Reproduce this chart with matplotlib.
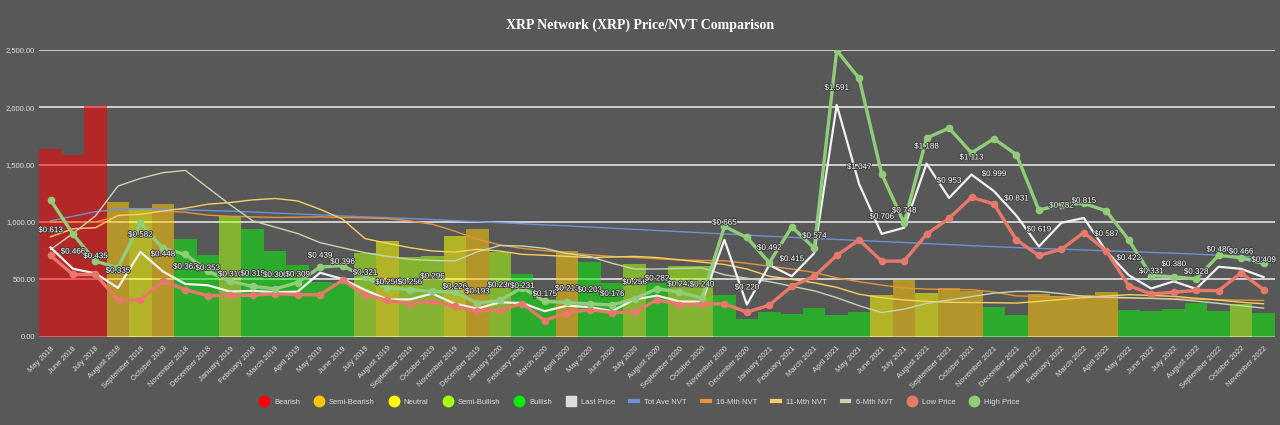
import matplotlib
matplotlib.use("Agg")
import matplotlib.pyplot as plt
from matplotlib.lines import Line2D
import matplotlib.patheffects as pe
import numpy as np

plt.rcParams['font.family'] = ['Liberation Sans', 'DejaVu Sans']

# --- data -------------------------------------------------------------
months = ["January", "February", "March", "April", "May", "June", "July",
          "August", "September", "October", "November", "December"]
labels = []
for y in range(2018, 2023):
    for m in range(12):
        if (y == 2018 and m < 4) or (y == 2022 and m > 10):
            continue
        labels.append(f"{months[m]} {y}")

# NVT bars
nvt = [1634, 1582, 2012, 1172, 1119, 1154, 850, 709,
       1049, 938, 747, 621, 480, 470, 727, 832, 697, 703, 879, 943,
       738, 545, 330, 744, 650, 470, 630, 469, 612, 620, 366, 152,
       217, 199, 252, 193, 217, 366, 498, 381, 422, 401, 258, 193,
       375, 352, 363, 387, 234, 226, 243, 293, 223, 287, 205]

sentiment = ["Bearish", "Bearish", "Bearish", "Semi-Bearish", "Neutral", "Semi-Bearish", "Bullish", "Bullish",
             "Semi-Bullish", "Bullish", "Bullish", "Bullish", "Bullish", "Bullish", "Semi-Bullish", "Neutral",
             "Semi-Bullish", "Semi-Bullish", "Neutral", "Semi-Bearish",
             "Semi-Bullish", "Bullish", "Bullish", "Semi-Bearish", "Bullish", "Bullish", "Semi-Bullish", "Bullish",
             "Semi-Bullish", "Semi-Bullish", "Bullish", "Bullish",
             "Bullish", "Bullish", "Bullish", "Bullish", "Bullish", "Neutral", "Semi-Bearish", "Neutral",
             "Semi-Bearish", "Semi-Bearish", "Bullish", "Bullish",
             "Semi-Bearish", "Semi-Bearish", "Semi-Bearish", "Semi-Bearish", "Bullish", "Bullish", "Bullish",
             "Bullish", "Bullish", "Semi-Bullish", "Bullish"]

last_price = [0.613, 0.466, 0.435, 0.335, 0.582, 0.448, 0.362, 0.353,
              0.310, 0.315, 0.306, 0.309, 0.439, 0.396, 0.321, 0.256, 0.256, 0.296, 0.226, 0.193,
              0.236, 0.231, 0.175, 0.213, 0.203, 0.176, 0.256, 0.282, 0.242, 0.240, 0.665, 0.220,
              0.492, 0.415, 0.574, 1.591, 1.047, 0.706, 0.748, 1.188, 0.953, 1.113, 0.999, 0.831,
              0.619, 0.782, 0.815, 0.587, 0.422, 0.331, 0.380, 0.328, 0.480, 0.466, 0.409]

high_price = [0.939, 0.704, 0.519, 0.473, 0.780, 0.607, 0.565, 0.450,
              0.380, 0.346, 0.328, 0.372, 0.478, 0.488, 0.408, 0.335, 0.323, 0.311, 0.305, 0.231,
              0.249, 0.337, 0.242, 0.235, 0.226, 0.217, 0.261, 0.330, 0.305, 0.265, 0.757, 0.681,
              0.508, 0.754, 0.607, 1.965, 1.773, 1.118, 0.780, 1.364, 1.432, 1.262, 1.359, 1.250,
              0.870, 0.906, 0.916, 0.863, 0.664, 0.420, 0.411, 0.397, 0.558, 0.542, 0.503]

low_price = [0.558, 0.427, 0.427, 0.254, 0.254, 0.381, 0.323, 0.281,
             0.284, 0.284, 0.295, 0.288, 0.288, 0.388, 0.288, 0.249, 0.226, 0.242, 0.208, 0.175,
             0.185, 0.226, 0.111, 0.166, 0.185, 0.166, 0.168, 0.254, 0.219, 0.224, 0.226, 0.168,
             0.217, 0.346, 0.415, 0.558, 0.664, 0.519, 0.519, 0.704, 0.812, 0.957, 0.911, 0.664,
             0.558, 0.600, 0.715, 0.588, 0.351, 0.293, 0.305, 0.318, 0.316, 0.438, 0.323]

tot_ave_nvt = [1010, 1050, 1090, 1110, 1115, 1113, 1106, 1100,
               1094, 1087, 1078, 1070, 1062, 1053, 1045, 1038, 1030, 1021, 1012, 1003,
               994, 985, 975, 966, 956, 946, 936, 926, 916, 906, 896, 886,
               875, 866, 857, 848, 839, 830, 821, 812, 803, 794, 785, 777,
               770, 763, 756, 749, 742, 735, 728, 720, 710, 700, 690]

nvt_16m = [1000, 1000, 1000, 1050, 1075, 1095, 1085, 1060,
           1050, 1045, 1040, 1042, 1045, 1040, 1035, 1030, 1010, 980, 920, 850,
           800, 770, 750, 730, 715, 700, 690, 680, 670, 665, 662, 640,
           615, 590, 560, 513, 480, 450, 425, 415, 412, 410, 390, 355,
           352, 345, 340, 338, 337, 333, 330, 326, 322, 318, 316]

nvt_11m = [871, 941, 950, 1058, 1067, 1096, 1120, 1155,
           1170, 1193, 1205, 1184, 1111, 1025, 855, 815, 776, 747, 738, 762,
           747, 718, 710, 700, 690, 695, 700, 690, 670, 650, 630, 590,
           527, 500, 470, 430, 370, 340, 320, 308, 300, 298, 296, 293,
           308, 325, 340, 355, 366, 360, 352, 335, 320, 300, 287]

nvt_6m = [760, 900, 1053, 1313, 1380, 1430, 1450, 1300,
          1150, 1011, 955, 900, 820, 775, 732, 700, 674, 665, 660, 740,
          795, 791, 770, 725, 700, 640, 590, 590, 595, 600, 540, 510,
          480, 440, 400, 340, 270, 210, 240, 290, 320, 350, 380, 395,
          395, 375, 352, 345, 340, 335, 328, 310, 290, 270, 249]

sent_colors = {"Bearish": "#ff0000", "Semi-Bearish": "#ffc805", "Neutral": "#ffff00",
               "Semi-Bullish": "#a8ff10", "Bullish": "#06ee06"}

# --- figure -----------------------------------------------------------
bg = "#585858"
fig = plt.figure(figsize=(12.8, 4.25), dpi=100, facecolor=bg)
ax = fig.add_axes([0.0307, 0.2078, 0.9652, 0.6746])
ax.set_facecolor(bg)

x = np.arange(len(labels))
ax.bar(x, nvt, width=1.0, color=[sent_colors[s] for s in sentiment], alpha=0.55,
       linewidth=0, zorder=2)

ax.plot(x, tot_ave_nvt, color="#6e90d8", lw=1.0, zorder=3)
ax.plot(x, nvt_16m, color="#e8923a", lw=1.0, zorder=3)
ax.plot(x, nvt_11m, color="#f8d060", lw=1.0, zorder=3)
ax.plot(x, nvt_6m, color="#c3d6b0", lw=1.0, zorder=3)

ax.set_xlim(-0.5, len(labels) - 0.5)
ax.set_ylim(0, 2500)
ax.set_yticks(range(0, 2501, 500))
ax.set_yticklabels([f"{v:,.2f}" for v in range(0, 2501, 500)])
ax.yaxis.grid(True, color="#d8d8d8", lw=1.3, zorder=0)
ax.set_axisbelow(True)
ax.set_xticks(x)
ax.set_xticklabels(labels, rotation=45, ha="right", rotation_mode="anchor")
ax.tick_params(axis="both", length=0, labelsize=5.5, labelcolor="#e0e0e0")
ax.tick_params(axis="x", pad=6)
ax.tick_params(axis="y", pad=3)
for s in ax.spines.values():
    s.set_visible(False)

# prices on a hidden second axis
ax2 = ax.twinx()
ax2.set_ylim(0, 1.9685)
ax2.axis("off")
ax2.plot(x, last_price, color="#f2f2f2", lw=1.6, zorder=4)
ax2.plot(x, low_price, color="#e8796a", lw=2.4, marker="o", ms=4.5, zorder=5)
ax2.plot(x, high_price, color="#8fcd78", lw=2.4, marker="o", ms=4.5, zorder=6)

for i, v in enumerate(last_price):
    ax2.annotate(f"${v:.3f}", (i, v), xytext=(0, 12), textcoords="offset points",
                 ha="center", va="center", fontsize=5.8, color="white", zorder=8,
                 annotation_clip=False,
                 path_effects=[pe.withStroke(linewidth=1.3, foreground="#3c3c3c")])

fig.text(0.5, 0.941, "XRP Network (XRP) Price/NVT Comparison", ha="center", va="center",
         fontsize=10, fontweight="bold", color="white", family=["Liberation Serif", "DejaVu Serif"])

# legend
handles = [Line2D([], [], ls="none", marker="o", ms=7.5, mfc=c, mec=c) for c in sent_colors.values()]
handles.append(Line2D([], [], ls="none", marker="s", ms=7, mfc="#dddddd", mec="#dddddd"))
for c in ["#6e90d8", "#e8923a", "#f8d060", "#c3d6b0"]:
    handles.append(Line2D([], [], color=c, lw=3))
handles.append(Line2D([], [], ls="none", marker="o", ms=7.5, mfc="#e8796a", mec="#e8796a"))
handles.append(Line2D([], [], ls="none", marker="o", ms=7.5, mfc="#8fcd78", mec="#8fcd78"))
names = list(sent_colors.keys()) + ["Last Price", "Tot Ave NVT", "16-Mth NVT", "11-Mth NVT",
                                    "6-Mth NVT", "Low Price", "High Price"]
fig.legend(handles, names, loc="center", bbox_to_anchor=(0.5, 0.054), ncol=12, frameon=False,
           fontsize=5.5, labelcolor="#dddddd", handlelength=1.0, handletextpad=0.8,
           columnspacing=2.0)

fig.savefig("out.png", dpi=100, facecolor=bg)
